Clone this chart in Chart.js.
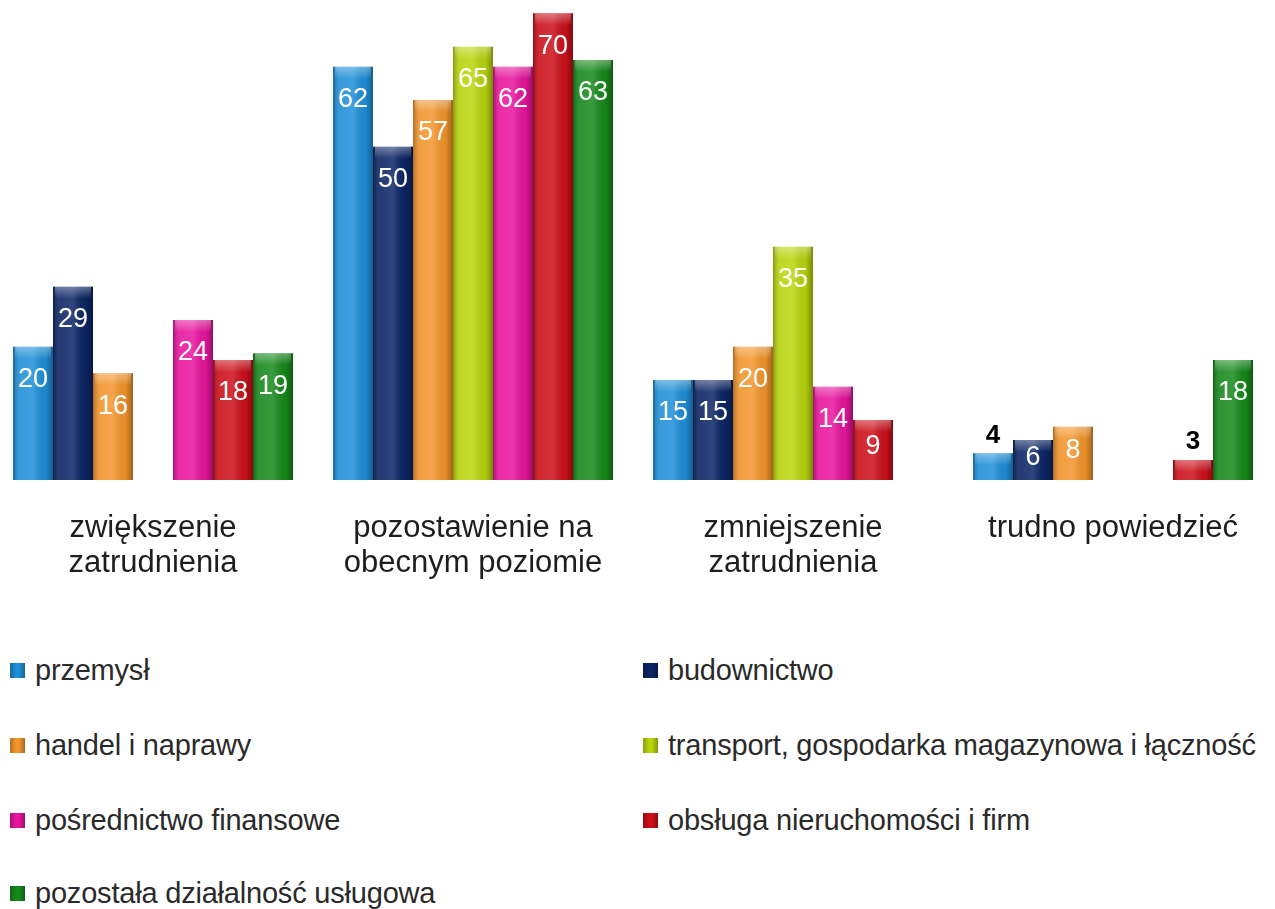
<!DOCTYPE html>
<html><head><meta charset="utf-8">
<script src="https://cdn.jsdelivr.net/npm/chart.js@4/dist/chart.umd.min.js"></script>
<style>
html,body{margin:0;padding:0;background:#fff;overflow:hidden;width:1275px;height:909px;}
#wrap{position:absolute;left:-7px;top:0;width:1280px;height:600px;}
.leg{position:absolute;font-family:"Liberation Sans",Arial,sans-serif;font-size:29px;color:#2a2a2a;white-space:nowrap;line-height:32px;letter-spacing:-0.2px;}
.leg span.m{display:inline-block;width:15px;height:15px;margin-right:10px;vertical-align:middle;position:relative;top:-2px;}
</style></head>
<body>
<div id="wrap"><canvas id="c" width="1280" height="600"></canvas></div>
<div id="legend"></div>
<script>
const categories = [["zwiększenie","zatrudnienia"],["pozostawienie na","obecnym poziomie"],["zmniejszenie","zatrudnienia"],"trudno powiedzieć"];
const seriesNames = ["przemysł","budownictwo","handel i naprawy","transport, gospodarka magazynowa i łączność","pośrednictwo finansowe","obsługa nieruchomości i firm","pozostała działalność usługowa"];
const przemysl = [20,62,15,4];
const budownictwo = [29,50,15,6];
const handel = [16,57,20,8];
const transport = [null,65,35,null];
const posrednictwo = [24,62,14,null];
const obsluga = [18,70,9,3];
const pozostala = [19,63,null,18];
const colors = ["#1e8fd8","#0b2565","#f3952c","#b9d40c","#e8149e","#cc0f19","#16891b"];

const seriesValues = [przemysl,budownictwo,handel,transport,posrednictwo,obsluga,pozostala];

const shadePlugin = {
  id:'shade',
  afterDatasetsDraw(chart){
    const ctx = chart.ctx;
    chart.data.datasets.forEach((ds,di)=>{
      const meta = chart.getDatasetMeta(di);
      meta.data.forEach((bar,i)=>{
        if(ds.data[i]==null) return;
        const {x,y,base,width} = bar.getProps(['x','y','base','width'],true);
        const l = x-width/2, r = x+width/2;
        const g = ctx.createLinearGradient(l,0,r,0);
        g.addColorStop(0,'rgba(0,0,0,0.28)');
        g.addColorStop(0.18,'rgba(255,255,255,0.10)');
        g.addColorStop(0.5,'rgba(255,255,255,0.15)');
        g.addColorStop(0.82,'rgba(0,0,0,0.05)');
        g.addColorStop(1,'rgba(0,0,0,0.35)');
        ctx.save();
        ctx.fillStyle = g;
        ctx.fillRect(l,y,width,base-y);
        const tg = ctx.createLinearGradient(0,y,0,y+12);
        tg.addColorStop(0,'rgba(255,255,255,0.35)');
        tg.addColorStop(1,'rgba(255,255,255,0)');
        ctx.fillStyle = tg;
        ctx.fillRect(l+2,y,width-4,Math.min(12,base-y));
        ctx.restore();
        const v = ds.data[i];
        const h = base-y;
        ctx.save();
        ctx.textAlign='center';ctx.textBaseline='middle';
        if(h < 30){
          ctx.fillStyle='#000';
          ctx.font='bold 26px "Liberation Sans", Arial, sans-serif';
          ctx.fillText(String(v), x, y-18);
        } else {
          ctx.fillStyle='#fff';
          ctx.font='27px "Liberation Sans", Arial, sans-serif';
          ctx.fillText(String(v), x, Math.min(y+33, y+h*0.45));
        }
        ctx.restore();
      });
    });
  }
};

new Chart(document.getElementById('c'),{
  type:'bar',
  data:{
    labels:categories,
    datasets:seriesNames.map((n,i)=>({label:n,data:seriesValues[i],backgroundColor:colors[i],borderWidth:0,categoryPercentage:0.875,barPercentage:1}))
  },
  options:{
    responsive:false,animation:false,
    layout:{padding:0},
    plugins:{legend:{display:false},tooltip:{enabled:false}},
    scales:{
      y:{display:false,min:0,max:72},
      x:{grid:{display:false},border:{display:false},
         ticks:{color:'#1e1e1e',padding:23,font:{family:'"Liberation Sans", Arial, sans-serif',size:31,lineHeight:1.13},maxRotation:0,autoSkip:false},
         afterFit(s){s.height=120;}}
    }
  },
  plugins:[shadePlugin]
});

const legPos = [[10,670],[643,670],[10,745],[643,745],[10,820],[643,820],[10,893]];
const legEl = document.getElementById('legend');
seriesNames.forEach((n,i)=>{
  const d = document.createElement('div');
  d.className='leg';
  d.style.left=legPos[i][0]+'px';
  d.style.top=(legPos[i][1]-16)+'px';
  d.innerHTML='<span class="m" style="background:linear-gradient(90deg,rgba(0,0,0,.25),'+colors[i]+' 40%,'+colors[i]+' 60%,rgba(0,0,0,.3)),'+colors[i]+'"></span>';
  d.appendChild(document.createTextNode(n));
  legEl.appendChild(d);
});
</script>
</body></html>
